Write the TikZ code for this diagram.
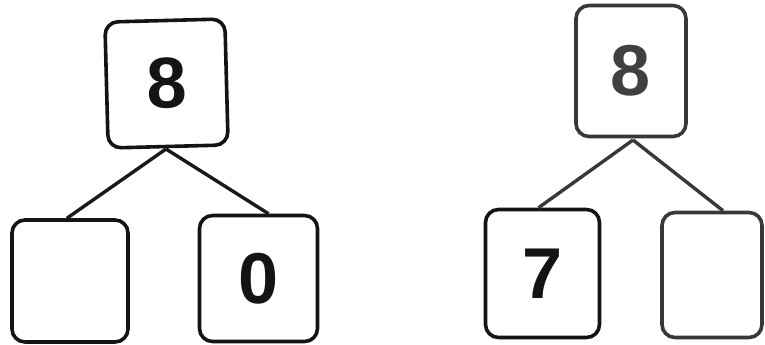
\documentclass[tikz,border=0pt]{standalone}
\usepackage{fontspec}
\setmainfont{Liberation Sans}
\begin{document}
\begin{tikzpicture}[x=1pt,y=-1pt,
  numbox/.style={draw, line width=3.6pt, rounded corners=13pt, inner sep=0pt,
    font=\fontsize{72}{72}\selectfont\bfseries},
  leftcol/.style={draw=black!92, text=black!92},
  rightcol/.style={draw=black!78, text=black!75},
  branch/.style={line width=3.4pt}]
\useasboundingbox (0,0) rectangle (765,345);
% left tree
\node[numbox, leftcol, minimum width=120pt, minimum height=126pt, rotate=1.5] (lt) at (166.5,83.5) {8};
\node[numbox, leftcol, minimum width=116pt, minimum height=122pt] (lbl) at (70,281) {};
\node[numbox, leftcol, minimum width=118pt, minimum height=126pt] (lbr) at (258.5,278.5) {0};
\coordinate (lj) at (166,149);
\draw[branch, black!90] (lj) -- ([xshift=-3pt]lbl.north);
\draw[branch, black!90] (lj) -- ([xshift=10pt]lbr.north);
% right tree
\node[numbox, rightcol, minimum width=110pt, minimum height=131pt] (rt) at (631,71) {8};
\node[numbox, leftcol, minimum width=114pt, minimum height=128pt] (rbl) at (542.5,273.5) {7};
\node[numbox, rightcol, minimum width=100pt, minimum height=125pt] (rbr) at (712,275) {};
\coordinate (rj) at (633,140);
\draw[branch, black!78] (rj) -- ([xshift=-4pt]rbl.north);
\draw[branch, black!78] (rj) -- ([xshift=11pt]rbr.north);
\end{tikzpicture}
\end{document}
